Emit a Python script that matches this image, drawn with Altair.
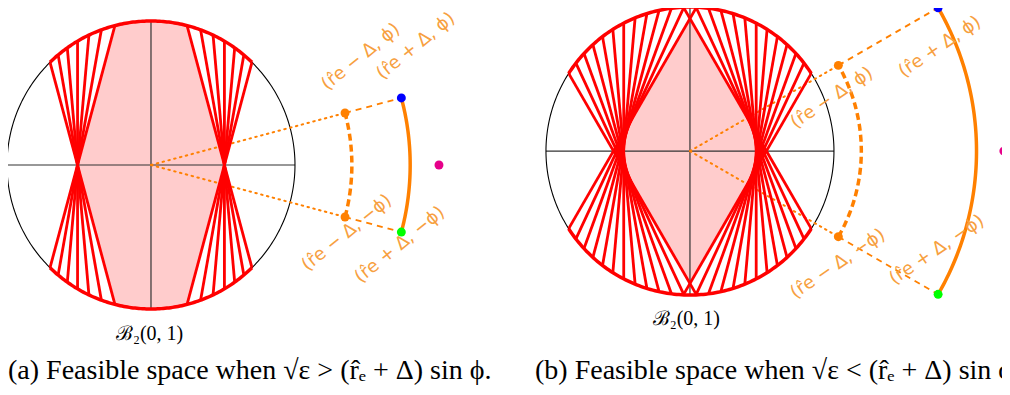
import numpy as np
import pandas as pd
import altair as alt

# ---- geometry of the two panels (unit = radius of the ball B2(0,1)) ----
panel_names = ["a", "b"]
panel_cx = [0.0, 3.743]
panel_cy = [0.0, 0.097]
phi_deg = [15.0, 30.0]
chord_kind = ["pencil", "tangent"]      # (a) lines through a point, (b) lines tangent to a circle
chord_param = [0.51, 0.46]              # pinch abscissa (a) / tangent radius (b)
chord_step_deg = [5.0, 5.0]
r_minus = [1.395, 1.19]
r_plus = [1.80, 1.99]
r_dot = [2.0, 2.18]

label_texts = ["(r̂e − Δ, ϕ)", "(r̂e + Δ, ϕ)", "(r̂e − Δ, −ϕ)", "(r̂e + Δ, −ϕ)"]
label_x = [[1.458, 1.840, 1.361, 1.729], [0.986, 1.736, 1.028, 1.715]]
label_y = [[0.750, 0.825, -0.472, -0.556], [0.368, 0.722, -0.785, -0.688]]
label_tilt = [39, 34]

ball_label = "ℬ₂(0, 1)"
ball_label_x = [-0.010, -0.025]
ball_label_y = [-1.175, -1.165]

captions = ["(a) Feasible space when √ε > (r̂ₑ + Δ) sin ϕ.",
            "(b) Feasible space when √ε < (r̂ₑ + Δ) sin ϕ."]
caption_x = [-0.993, 2.667]
caption_y = [-1.431, -1.431]

XMIN, XMAX = -0.993, 5.910
YMIN, YMAX = -1.5417, 1.0903
W, H = 994, 379

ORANGE = "#FF8000"
TXT_ORANGE = "#F7A040"

# ---- build tables ----
circle_rows, pink_rows, chord_rows, redarc_rows = [], [], [], []
axis_rows, dotted_rows, radial_rows, arc_rows, dot_rows = [], [], [], [], []
label_rows, misc_rows = [], []

for k, name in enumerate(panel_names):
    cx, cy = panel_cx[k], panel_cy[k]
    phi = np.radians(phi_deg[k])
    c = chord_param[k]
    for i, a in enumerate(np.linspace(0, 2 * np.pi, 361)):
        circle_rows.append(dict(g=name, i=i, x=cx + np.cos(a), y=cy + np.sin(a)))
    axis_rows.append(dict(g=name, x=cx - 1, x2=cx + 1, y=cy, y2=cy))
    axis_rows.append(dict(g=name, x=cx, x2=cx, y=cy - 1, y2=cy + 1))
    betas = np.radians(np.arange(-phi_deg[k], phi_deg[k] + 0.01, chord_step_deg[k]))
    top_angles = []
    for side in (1, -1):
        for b in betas:
            d = np.array([-np.sin(b), np.cos(b)])
            if chord_kind[k] == "pencil":
                base = np.array([c, 0.0])
                s = c * np.sin(b)
                disc = np.sqrt(c * c * np.sin(b) ** 2 - c * c + 1)
                ts = (s + disc, s - disc)
            else:
                base = c * np.array([np.cos(b), np.sin(b)])
                ts = (np.sqrt(1 - c * c), -np.sqrt(1 - c * c))
            p1 = base + ts[0] * d
            p2 = base + ts[1] * d
            p1[0] *= side
            p2[0] *= side
            for p in (p1, p2):
                if p[1] > 0:
                    top_angles.append(np.arctan2(p[1], p[0]))
            chord_rows.append(dict(g=name, x=cx + p1[0], y=cy + p1[1], x2=cx + p2[0], y2=cy + p2[1]))
    a0, a1 = min(top_angles), max(top_angles)
    for j, sgn in enumerate((1, -1)):
        for i, a in enumerate(np.linspace(a0, a1, 120)):
            redarc_rows.append(dict(g=f"{name}{j}", i=i, x=cx + np.cos(a), y=cy + sgn * np.sin(a)))
    xs = np.unique(np.concatenate([np.linspace(-c, c, 601),
                                   [c * np.cos(phi), -c * np.cos(phi), 0.0]]))
    for i, xv in enumerate(xs):
        ax_ = abs(xv)
        circ = np.sqrt(max(0.0, 1 - xv * xv))
        if chord_kind[k] == "pencil":
            g = (c - ax_) / np.tan(phi)
        else:
            if ax_ >= c * np.cos(phi):
                g = np.sqrt(max(0.0, c * c - xv * xv))
            else:
                g = (c - ax_ * np.cos(phi)) / np.sin(phi)
        h = max(0.0, min(circ, g))
        pink_rows.append(dict(g=name, x=cx + xv, y=cy + h, y2=cy - h))
    for sgn in (1, -1):
        pm = np.array([np.cos(phi), sgn * np.sin(phi)])
        dotted_rows.append(dict(g=name, x=cx, y=cy, x2=cx + r_minus[k] * pm[0], y2=cy + r_minus[k] * pm[1]))
        radial_rows.append(dict(g=name, x=cx + r_minus[k] * pm[0], y=cy + r_minus[k] * pm[1],
                                x2=cx + r_plus[k] * pm[0], y2=cy + r_plus[k] * pm[1]))
        dot_rows.append(dict(g=name, x=cx + r_minus[k] * pm[0], y=cy + r_minus[k] * pm[1], col=ORANGE))
        dot_rows.append(dict(g=name, x=cx + r_plus[k] * pm[0], y=cy + r_plus[k] * pm[1],
                             col="#0000FF" if sgn > 0 else "#00FF00"))
    dot_rows.append(dict(g=name, x=cx + r_dot[k], y=cy, col="#E6008A"))
    for nm, rr in (("minus", r_minus[k]), ("plus", r_plus[k])):
        for i, a in enumerate(np.linspace(-phi, phi, 80)):
            arc_rows.append(dict(g=name, kind=nm, i=i, x=cx + rr * np.cos(a), y=cy + rr * np.sin(a)))
    for j, t in enumerate(label_texts):
        label_rows.append(dict(g=name, t=t, x=cx + label_x[k][j], y=cy + label_y[k][j],
                               ang=360 - label_tilt[k]))
    misc_rows.append(dict(t=ball_label, x=cx + ball_label_x[k], y=cy + ball_label_y[k]))

cap_df = pd.DataFrame(dict(t=captions, x=caption_x, y=caption_y))

X = lambda f="x": alt.X(f"{f}:Q", scale=alt.Scale(domain=[XMIN, XMAX], nice=False, zero=False), axis=None)
Y = lambda f="y": alt.Y(f"{f}:Q", scale=alt.Scale(domain=[YMIN, YMAX], nice=False, zero=False), axis=None)

pink = alt.Chart(pd.DataFrame(pink_rows)).mark_area(color="#FFCCCC", opacity=1).encode(
    x=X(), y=Y(), y2="y2:Q", detail="g:N")
axes = alt.Chart(pd.DataFrame(axis_rows)).mark_rule(color="#333333", strokeWidth=1.2).encode(
    x=X(), y=Y(), x2="x2:Q", y2="y2:Q")
circle = alt.Chart(pd.DataFrame(circle_rows)).mark_line(color="black", strokeWidth=1.1).encode(
    x=X(), y=Y(), detail="g:N", order="i:Q")
dotted = alt.Chart(pd.DataFrame(dotted_rows)).mark_rule(
    color=ORANGE, strokeWidth=2, strokeDash=[1.5, 4.5], strokeCap="round").encode(
    x=X(), y=Y(), x2="x2:Q", y2="y2:Q")
chords = alt.Chart(pd.DataFrame(chord_rows)).mark_rule(color="#FF0000", strokeWidth=2.8).encode(
    x=X(), y=Y(), x2="x2:Q", y2="y2:Q")
redarc = alt.Chart(pd.DataFrame(redarc_rows)).mark_line(color="#FF0000", strokeWidth=3.5).encode(
    x=X(), y=Y(), detail="g:N", order="i:Q")
radial = alt.Chart(pd.DataFrame(radial_rows)).mark_rule(
    color=ORANGE, strokeWidth=1.8, strokeDash=[6, 5]).encode(
    x=X(), y=Y(), x2="x2:Q", y2="y2:Q")
arc_df = pd.DataFrame(arc_rows)
arc_minus = alt.Chart(arc_df[arc_df.kind == "minus"]).mark_line(
    color=ORANGE, strokeWidth=3.5, strokeDash=[7, 4]).encode(x=X(), y=Y(), detail="g:N", order="i:Q")
arc_plus = alt.Chart(arc_df[arc_df.kind == "plus"]).mark_line(
    color=ORANGE, strokeWidth=3.5).encode(x=X(), y=Y(), detail="g:N", order="i:Q")
dots = alt.Chart(pd.DataFrame(dot_rows)).mark_circle(size=80, opacity=1).encode(
    x=X(), y=Y(), color=alt.Color("col:N", scale=None))
labels = alt.Chart(pd.DataFrame(label_rows)).mark_text(
    font="DejaVu Sans", fontSize=18, color=TXT_ORANGE, align="center", baseline="middle").encode(
    x=X(), y=Y(), text="t:N", angle=alt.Angle("ang:Q", scale=None))
balls = alt.Chart(pd.DataFrame(misc_rows)).mark_text(
    font="Liberation Serif", fontSize=20, color="black", align="center", baseline="middle").encode(
    x=X(), y=Y(), text="t:N")
caps = alt.Chart(cap_df).mark_text(
    font="Liberation Serif", fontSize=28, color="black", align="left", baseline="middle").encode(
    x=X(), y=Y(), text="t:N")

chart = alt.layer(pink, axes, circle, dotted, chords, redarc, radial, arc_minus, arc_plus,
                  dots, labels, balls, caps).properties(
    width=W, height=H, autosize=alt.AutoSizeParams(type="none"), padding=0,
    background="white").configure_view(stroke=None)

chart.save("out.html", embed_options={"renderer": "svg", "actions": False})
